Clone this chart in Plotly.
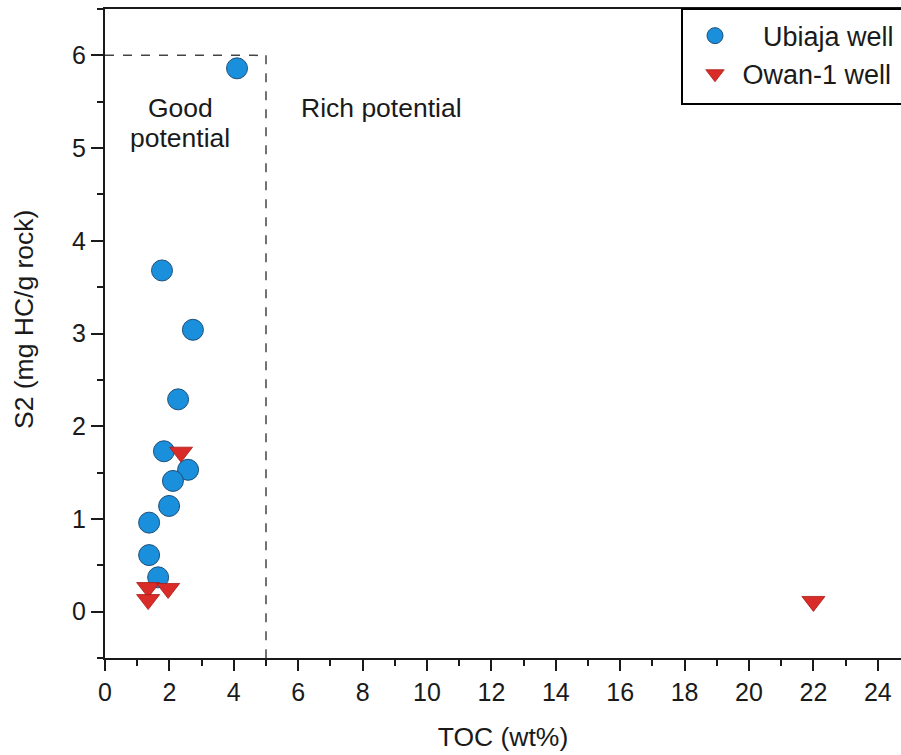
import plotly.graph_objects as go

# Data
ubiaja_toc = [4.10, 1.77, 2.73, 2.27, 1.83, 2.58, 2.11, 1.99, 1.37, 1.37, 1.65]
ubiaja_s2 = [5.86, 3.68, 3.04, 2.29, 1.73, 1.53, 1.41, 1.14, 0.96, 0.61, 0.37]
owan_toc = [2.36, 1.34, 1.96, 1.34, 22.0]
owan_s2 = [1.72, 0.26, 0.25, 0.13, 0.11]
good_toc_limit = 5
good_s2_limit = 6
x_ticks = list(range(0, 25, 2))
y_ticks = list(range(0, 7))

FONT = "Liberation Sans, Arial, sans-serif"
TXT = "#1a1a1a"

fig = go.Figure()
fig.add_trace(go.Scatter(
    x=ubiaja_toc, y=ubiaja_s2, mode="markers",
    name="\u00a0\u00a0\u00a0\u2009Ubiaja well",
    marker=dict(symbol="circle", size=21, color="#1a8fdb",
                line=dict(color="#1d4f7a", width=1)),
))
fig.add_trace(go.Scatter(
    x=owan_toc, y=owan_s2, mode="markers",
    name="\u00a0Owan-1 well",
    marker=dict(symbol="triangle-down", size=20, color="#d92b27",
                line=dict(color="#a81c16", width=0.8)),
))

# dashed boundary lines
fig.add_shape(type="line", xref="x", yref="y", x0=0, x1=good_toc_limit,
              y0=good_s2_limit, y1=good_s2_limit,
              line=dict(color="#444444", width=1.5, dash="dash"), layer="below")
fig.add_shape(type="line", xref="x", yref="y", x0=good_toc_limit, x1=good_toc_limit,
              y0=good_s2_limit, y1=-0.5,
              line=dict(color="#444444", width=1.5, dash="dash"), layer="below")

# legend frame (right side cut off like the reference)
fig.add_shape(type="rect", xref="paper", yref="paper",
              x0=(682 - 105) / 796, x1=1.02, y0=1 - (104 - 9) / 649, y1=1.0,
              line=dict(color="black", width=2), fillcolor="white", layer="above")

fig.add_annotation(x=2.33, y=5.43, xref="x", yref="y", text="Good",
                   showarrow=False, font=dict(family=FONT, size=26.5, color=TXT))
fig.add_annotation(x=2.33, y=5.11, xref="x", yref="y", text="potential",
                   showarrow=False, font=dict(family=FONT, size=26.5, color=TXT))
fig.add_annotation(x=8.6, y=5.43, xref="x", yref="y", text="Rich potential",
                   showarrow=False, font=dict(family=FONT, size=26.5, color=TXT))

# y axis title
fig.add_annotation(x=0, y=(658 - 320) / 649, xref="paper", yref="paper",
                   xanchor="center", yanchor="middle", xshift=-81,
                   text="S2 (mg HC/g rock)", textangle=-90, showarrow=False,
                   font=dict(family=FONT, size=26.5, color=TXT))

fig.update_layout(
    width=901, height=755,
    margin=dict(l=105, r=0, t=9, b=97, autoexpand=False),
    plot_bgcolor="white", paper_bgcolor="white",
    font=dict(family=FONT, size=25, color=TXT),
    showlegend=True,
    legend=dict(x=(695 - 105) / 796, y=0.996, xanchor="left", yanchor="top",
                borderwidth=0, bgcolor="rgba(0,0,0,0)",
                font=dict(family=FONT, size=27, color=TXT)),
)
fig.update_xaxes(
    range=[0, 24.72], tickvals=x_ticks, ticktext=[str(v) for v in x_ticks],
    showline=True, linecolor=TXT, linewidth=2, mirror=True,
    ticks="outside", ticklen=11, tickwidth=2, tickcolor=TXT,
    minor=dict(dtick=1, ticks="outside", ticklen=6, tickwidth=2, tickcolor=TXT),
    showgrid=False, zeroline=False,
    title=dict(text="TOC (wt%)", font=dict(family=FONT, size=26.5), standoff=22),
    tickfont=dict(family=FONT, size=25),
)
fig.update_yaxes(
    range=[-0.5, 6.5], tickvals=y_ticks, ticktext=[str(v) for v in y_ticks],
    showline=True, linecolor=TXT, linewidth=2, mirror=False,
    ticks="outside", ticklen=12, tickwidth=2, tickcolor=TXT,
    minor=dict(dtick=0.5, ticks="outside", ticklen=6, tickwidth=2, tickcolor=TXT),
    showgrid=False, zeroline=False,
    tickfont=dict(family=FONT, size=25),
)

fig.write_html("out.html")
